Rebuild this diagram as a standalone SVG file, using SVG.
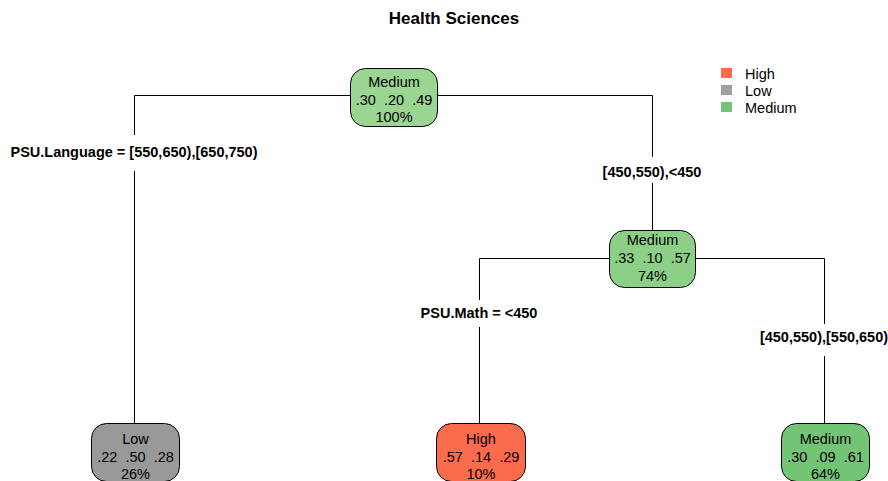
<svg xmlns="http://www.w3.org/2000/svg" width="888" height="481" viewBox="0 0 888 481">
<style>
  .box { stroke: #000; stroke-width: 1; }
  .nt { font-family: "Liberation Sans", Arial, sans-serif; font-size: 14.5px; fill: #000; text-anchor: middle; }
  .lbl { font-family: "Liberation Sans", Arial, sans-serif; font-size: 14.5px; font-weight: bold; fill: #000; text-anchor: middle; }
  .lg { font-family: "Liberation Sans", Arial, sans-serif; font-size: 14.5px; fill: #000; }
  .edge { fill: none; stroke: #000; stroke-width: 1; }
</style>
<rect width="888" height="481" fill="#fff"/>
<text x="454" y="24" font-family="Liberation Sans, Arial, sans-serif" font-size="17" font-weight="bold" text-anchor="middle">Health Sciences</text>

<g id="legend">
  <rect x="721" y="68" width="11" height="10" fill="#FF6A4A"/>
  <text class="lg" x="745" y="78.5">High</text>
  <rect x="721" y="85" width="11" height="10" fill="#A0A0A0"/>
  <text class="lg" x="745" y="95.5">Low</text>
  <rect x="721" y="102" width="11" height="10" fill="#74C476"/>
  <text class="lg" x="745" y="113">Medium</text>
</g>

<g id="connectors">
  <polyline class="edge" points="350,95.5 134.5,95.5 134.5,135"/>
  <line class="edge" x1="134.5" y1="171" x2="134.5" y2="423"/>
  <text class="lbl" x="134" y="157">PSU.Language = [550,650),[650,750)</text>

  <polyline class="edge" points="437,95.5 652.5,95.5 652.5,157"/>
  <line class="edge" x1="652.5" y1="183" x2="652.5" y2="230"/>
  <text class="lbl" x="652" y="177">[450,550),&lt;450</text>

  <polyline class="edge" points="610,258.5 479.5,258.5 479.5,300"/>
  <line class="edge" x1="479.5" y1="327" x2="479.5" y2="423"/>
  <text class="lbl" x="479" y="318">PSU.Math = &lt;450</text>

  <polyline class="edge" points="695,258.5 824.5,258.5 824.5,324"/>
  <line class="edge" x1="824.5" y1="356" x2="824.5" y2="423"/>
  <text class="lbl" x="824" y="342">[450,550),[550,650)</text>
</g>

<g id="node-root">
  <rect class="box" x="350.5" y="68.5" width="87" height="58" rx="15" ry="15" fill="#9AD591"/>
  <text class="nt" x="394" y="87">Medium</text>
  <text class="nt" x="394" y="105" xml:space="preserve">.30  .20  .49</text>
  <text class="nt" x="394" y="122">100%</text>
</g>

<g id="node-2">
  <rect class="box" x="609.5" y="230.5" width="86" height="57" rx="15" ry="15" fill="#8CCF86"/>
  <text class="nt" x="652.5" y="245">Medium</text>
  <text class="nt" x="652.5" y="263" xml:space="preserve">.33  .10  .57</text>
  <text class="nt" x="652.5" y="281">74%</text>
</g>

<g id="leaf-low">
  <rect class="box" x="91.5" y="423.5" width="88" height="58" rx="15" ry="15" fill="#999999"/>
  <text class="nt" x="135.5" y="444">Low</text>
  <text class="nt" x="135.5" y="462" xml:space="preserve">.22  .50  .28</text>
  <text class="nt" x="135.5" y="479">26%</text>
</g>

<g id="leaf-high">
  <rect class="box" x="436.5" y="423.5" width="89" height="58" rx="15" ry="15" fill="#FC6B4B"/>
  <text class="nt" x="481" y="444">High</text>
  <text class="nt" x="481" y="462" xml:space="preserve">.57  .14  .29</text>
  <text class="nt" x="481" y="479">10%</text>
</g>

<g id="leaf-medium">
  <rect class="box" x="781.5" y="423.5" width="88" height="58" rx="15" ry="15" fill="#74C476"/>
  <text class="nt" x="825.5" y="444">Medium</text>
  <text class="nt" x="825.5" y="462" xml:space="preserve">.30  .09  .61</text>
  <text class="nt" x="825.5" y="479">64%</text>
</g>
</svg>
